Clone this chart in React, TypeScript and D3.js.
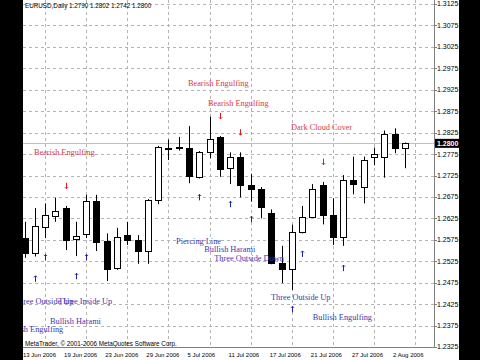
import React from "react";
import * as d3 from "d3";

const dates = [
  "2006-06-13","2006-06-14","2006-06-15","2006-06-16","2006-06-19","2006-06-20","2006-06-21","2006-06-22",
  "2006-06-23","2006-06-26","2006-06-27","2006-06-28","2006-06-29","2006-06-30","2006-07-03","2006-07-04",
  "2006-07-05","2006-07-06","2006-07-07","2006-07-10","2006-07-11","2006-07-12","2006-07-13","2006-07-14",
  "2006-07-17","2006-07-18","2006-07-19","2006-07-20","2006-07-21","2006-07-24","2006-07-25","2006-07-26",
  "2006-07-27","2006-07-28","2006-07-31","2006-08-01","2006-08-02","2006-08-03",
];
const open = [1.2580,1.2544,1.2604,1.2631,1.2649,1.2576,1.2588,1.2666,1.2572,1.2509,1.2586,1.2575,1.2550,1.2668,1.2786,1.2791,1.2788,1.2722,1.2779,1.2814,1.2742,1.2767,1.2703,1.2694,1.2638,1.2520,1.2506,1.2594,1.2629,1.2704,1.2633,1.2581,1.2715,1.2698,1.2767,1.2768,1.2822,1.2790];
const high = [1.2617,1.2649,1.2660,1.2673,1.2654,1.2617,1.2680,1.2680,1.2590,1.2603,1.2617,1.2586,1.2670,1.2794,1.2809,1.2815,1.2840,1.2782,1.2862,1.2817,1.2779,1.2779,1.2729,1.2698,1.2646,1.2561,1.2610,1.2654,1.2705,1.2710,1.2672,1.2726,1.2769,1.2769,1.2790,1.2830,1.2835,1.2802];
const low = [1.2533,1.2536,1.2579,1.2617,1.2551,1.2537,1.2579,1.2549,1.2479,1.2505,1.2563,1.2519,1.2519,1.2658,1.2761,1.2783,1.2707,1.2718,1.2765,1.2722,1.2705,1.2674,1.2664,1.2625,1.2518,1.2474,1.2458,1.2590,1.2627,1.2611,1.2563,1.2561,1.2681,1.2660,1.2749,1.2720,1.2777,1.2742];
const close = [1.2545,1.2607,1.2633,1.2642,1.2575,1.2585,1.2666,1.2571,1.2507,1.2582,1.2575,1.2550,1.2668,1.2791,1.2790,1.2790,1.2724,1.2780,1.2810,1.2740,1.2767,1.2702,1.2694,1.2652,1.2520,1.2507,1.2594,1.2628,1.2694,1.2633,1.2581,1.2715,1.2706,1.2761,1.2776,1.2822,1.2788,1.2800];

const priceTicks = ["1.3125","1.3075","1.3025","1.2975","1.2925","1.2875","1.2825","1.2775","1.2725","1.2675","1.2625","1.2575","1.2525","1.2475","1.2425","1.2375","1.2325"];
const lastPrice = 1.28;

const bearIdx = [4, 19, 21, 29];
const bearPrice = [1.2701, 1.2864, 1.2826, 1.2757];
const bullIdx = [1, 2, 5, 6, 17, 20, 22, 26, 27, 31];
const bullPrice = [1.2484, 1.2534, 1.2490, 1.2534, 1.2674, 1.2658, 1.2623, 1.2413, 1.2542, 1.2509];

const labelText = [
  "Bearish Engulfing","Bearish Engulfing","Bearish Engulfing","Dark Cloud Cover",
  "Piercing Line","Bullish Harami","Three Outside Down","Three Outside Up","Bullish Engulfing",
  "Three Outside Up","Three Inside Up","Bullish Harami","Bullish Engulfing",
];
const labelIdx = [0.92, 15.9, 17.85, 25.92, 14.74, 17.49, 18.46, 23.98, 28.04, -1.02, 3.29, 2.48, -1.99];
const labelPrice = [1.2779, 1.2940, 1.2895, 1.2839, 1.2571, 1.2553, 1.2532, 1.2441, 1.2394, 1.2431, 1.2432, 1.2386, 1.2366];
const labelBear = [true, true, true, true, false, false, false, false, false, false, false, false, false];

const title = "EURUSD,Daily  1.2790 1.2802 1.2742 1.2800";
const copyright = "MetaTrader, \u00a9 2001-2006 MetaQuotes Software Corp.";

export default function App() {
  const W = 480, H = 360;
  const plotL = 23, plotR = 434, plotT = 0, plotB = 347;
  const x = d3.scaleLinear().domain([0, 37]).range([24.5, 404.9]);
  const y = d3.scaleLinear().domain([1.2325, 1.3125]).range([347, 4]);
  const parse = d3.timeParse("%Y-%m-%d");
  const fmt = d3.timeFormat("%-d %b %Y");
  const sans = "'Liberation Sans', Arial, sans-serif";
  const serif = "'Liberation Serif', 'Times New Roman', serif";
  const gridColor = "#b4b4b4";

  const vIdx = d3.range(2, 39, 4);
  const dIdx = d3.range(0, 37, 4);

  return (
    <svg width={W} height={H} style={{ position: "fixed", left: 0, top: 0, background: "#fff" }}>
      <rect x={0} y={0} width={W} height={H} fill="#fff" />
      {/* horizontal grid */}
      {priceTicks.map((t) => (
        <line key={"h" + t} x1={plotL} x2={plotR} y1={Math.round(y(+t)) + 0.5} y2={Math.round(y(+t)) + 0.5}
          stroke={gridColor} strokeDasharray="3,3" strokeWidth={1} />
      ))}
      {/* vertical grid */}
      {vIdx.map((i) => (
        <line key={"v" + i} x1={Math.round(x(i)) + 0.5} x2={Math.round(x(i)) + 0.5} y1={plotT} y2={plotB}
          stroke={gridColor} strokeDasharray="3,3" strokeWidth={1} />
      ))}
      {/* last price line */}
      <line x1={plotL} x2={plotR} y1={Math.round(y(lastPrice)) + 0.5} y2={Math.round(y(lastPrice)) + 0.5} stroke="#c0c0c0" strokeWidth={1} />

      {/* candles */}
      {open.map((o, i) => {
        const c = close[i];
        const cx = Math.round(x(i)) + 0.5;
        const top = Math.round(y(Math.max(o, c)));
        const bot = Math.round(y(Math.min(o, c)));
        const bull = c >= o;
        return (
          <g key={"c" + i}>
            <line x1={cx} x2={cx} y1={y(high[i])} y2={y(low[i])} stroke="#000" strokeWidth={1} />
            {bot - top < 1 ? (
              <line x1={cx - 3.5} x2={cx + 3.5} y1={top + 0.5} y2={top + 0.5} stroke="#000" strokeWidth={1} />
            ) : (
              <rect x={cx - 3} y={top + 0.5} width={6} height={bot - top} fill={bull ? "#fff" : "#000"} stroke="#000" strokeWidth={1} />
            )}
          </g>
        );
      })}

      {/* markers */}
      {bearIdx.map((i, k) => {
        const mx = Math.round(x(i)) + 0.5, my = y(bearPrice[k]);
        return (
          <path key={"br" + k} d={`M${mx},${my - 3}L${mx},${my + 3}M${mx - 1.5},${my + 1.5}L${mx},${my + 3}L${mx + 1.5},${my + 1.5}`}
            stroke="#e01818" strokeWidth={1} fill="none" />
        );
      })}
      {bullIdx.map((i, k) => {
        const mx = Math.round(x(i)) + 0.5, my = y(bullPrice[k]);
        return (
          <path key={"bl" + k} d={`M${mx},${my + 3}L${mx},${my - 3}M${mx - 1.5},${my - 1.5}L${mx},${my - 3}L${mx + 1.5},${my - 1.5}`}
            stroke="#2020a8" strokeWidth={1} fill="none" />
        );
      })}

      {/* pattern labels */}
      {labelText.map((t, k) => (
        <text key={"l" + k} x={x(labelIdx[k])} y={y(labelPrice[k])} dy="0.35em" fontFamily={serif} fontSize={8.3}
          fill={labelBear[k] ? "#d83a48" : "#3a3ab0"}>{t}</text>
      ))}

      {/* title & copyright */}
      <text x={25} y={6} dy="0.35em" fontFamily={sans} fontSize={6.3} fill="#000">{title}</text>
      <text x={25} y={344} dy="0.35em" fontFamily={sans} fontSize={6.3} fill="#000">{copyright}</text>

      {/* frame */}
      <line x1={plotL} x2={plotR + 1} y1={plotB + 0.5} y2={plotB + 0.5} stroke="#808080" strokeWidth={1} />
      <line x1={plotR + 0.5} x2={plotR + 0.5} y1={0} y2={plotB + 1} stroke="#808080" strokeWidth={1} />

      {/* price axis */}
      {priceTicks.map((t) => (
        <g key={"pt" + t}>
          <line x1={plotR} x2={plotR + 3} y1={Math.round(y(+t)) + 0.5} y2={Math.round(y(+t)) + 0.5} stroke="#808080" />
          <text x={437} y={y(+t)} dy="0.35em" fontFamily={sans} fontSize={7} fill="#000">{t}</text>
        </g>
      ))}
      <rect x={plotR + 1} y={y(lastPrice) - 4.5} width={24} height={9} fill="#000" />
      <text x={437} y={y(lastPrice)} dy="0.35em" fontFamily={sans} fontSize={7} fill="#fff" fontWeight="bold">{lastPrice.toFixed(4)}</text>

      {/* date axis */}
      {dIdx.map((i) => (
        <text key={"d" + i} x={x(i) - 1.5} y={355} dy="0.35em" fontFamily={sans} fontSize={6} fill="#000">
          {fmt(parse(dates[i]) as Date)}
        </text>
      ))}

      {/* black side strips */}
      <rect x={0} y={0} width={plotL} height={H} fill="#000" />
      <rect x={459} y={0} width={W - 459} height={H} fill="#000" />
    </svg>
  );
}
